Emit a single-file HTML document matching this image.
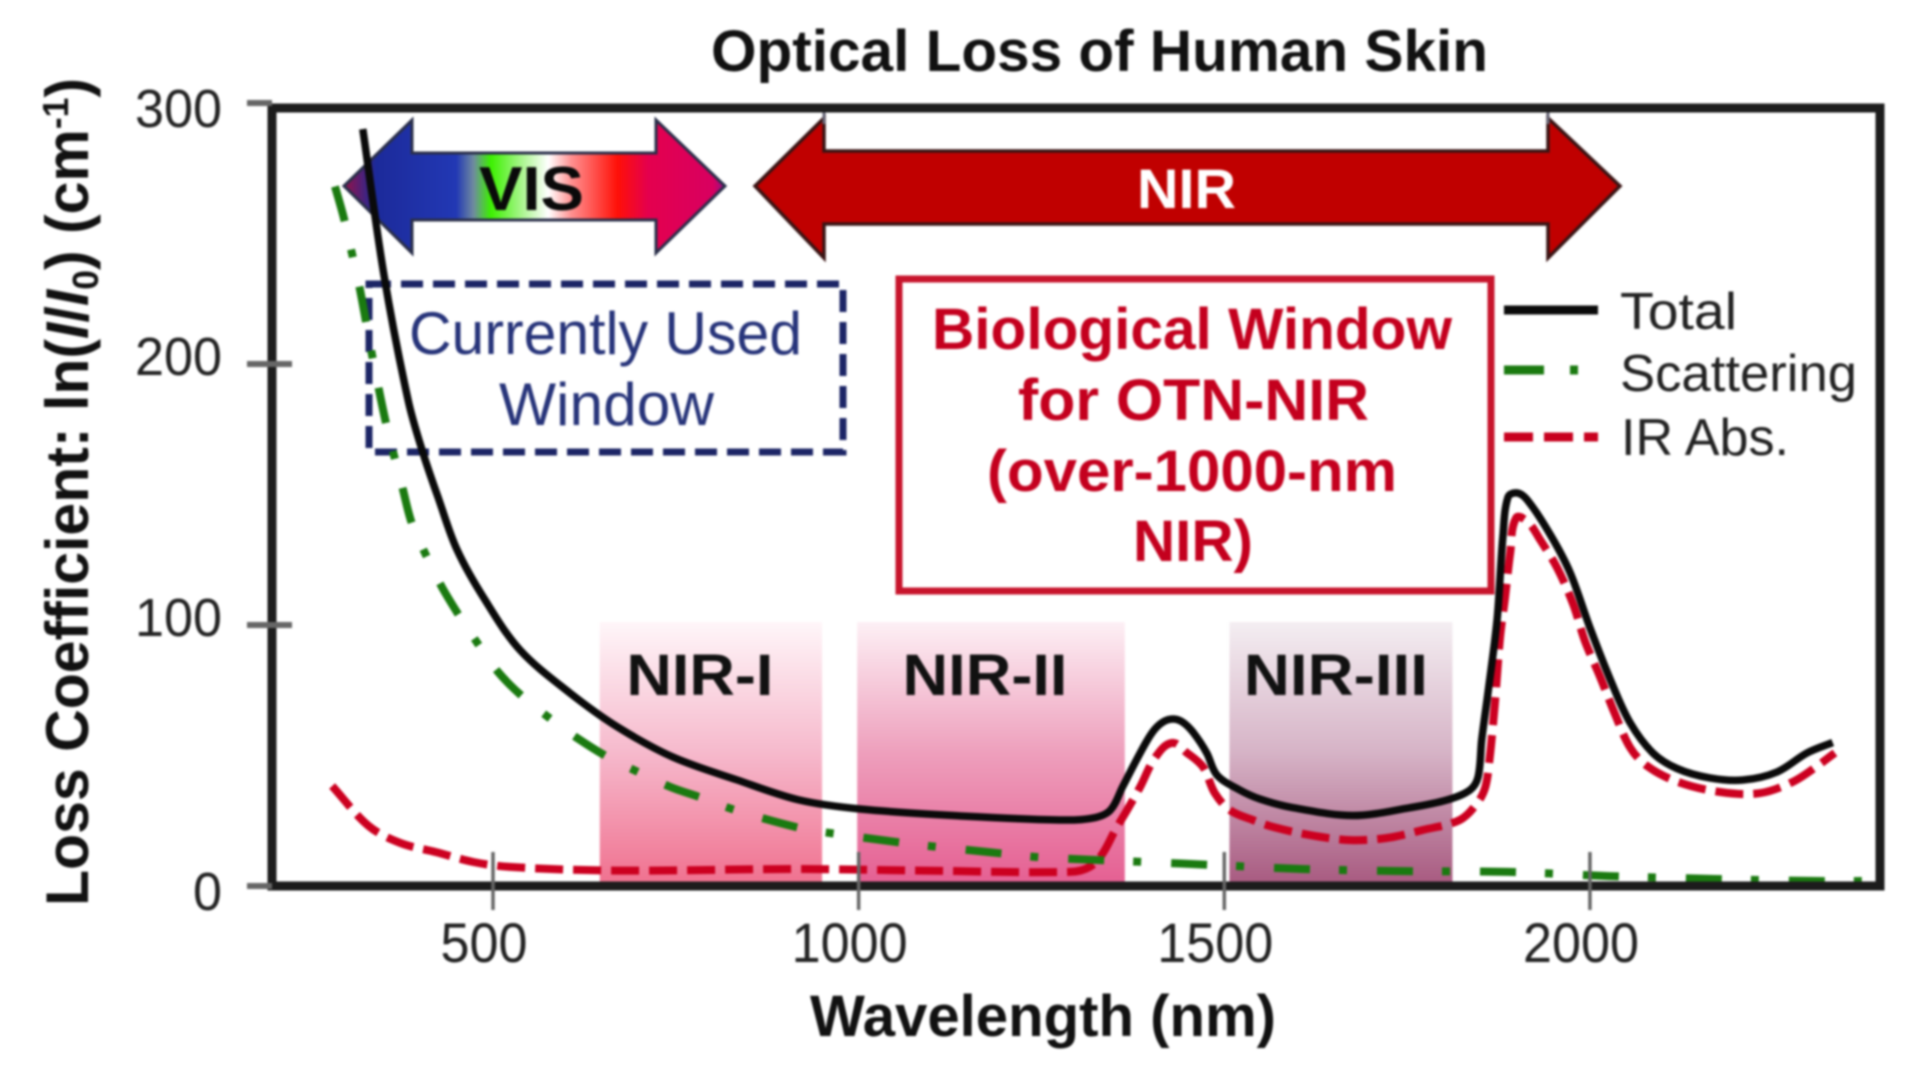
<!DOCTYPE html>
<html lang="en">
<head>
<meta charset="utf-8">
<title>Optical Loss of Human Skin</title>
<style>
  html, body { margin: 0; padding: 0; background: #fff; }
  body { width: 1928px; height: 1079px; overflow: hidden; }
  svg { display: block; filter: blur(1px); font-family: "Liberation Sans", sans-serif; }
</style>
</head>
<body>
<svg id="chart" xmlns="http://www.w3.org/2000/svg" width="1928" height="1079" viewBox="0 0 1928 1079">
  <defs>
    <linearGradient id="grad-nir1" x1="0" y1="0" x2="0" y2="1">
      <stop offset="0" stop-color="#fff6f9"/><stop offset="0.5" stop-color="#f6b9cc"/><stop offset="1" stop-color="#f0718f"/>
    </linearGradient>
    <linearGradient id="grad-nir2" x1="0" y1="0" x2="0" y2="1">
      <stop offset="0" stop-color="#fdf0f5"/><stop offset="0.5" stop-color="#ee9fbc"/><stop offset="1" stop-color="#e55f92"/>
    </linearGradient>
    <linearGradient id="grad-nir3" x1="0" y1="0" x2="0" y2="1">
      <stop offset="0" stop-color="#f4eef2"/><stop offset="0.5" stop-color="#d6b3c6"/><stop offset="1" stop-color="#a85a80"/>
    </linearGradient>
    <linearGradient id="grad-vis" gradientUnits="userSpaceOnUse" x1="341" y1="0" x2="725" y2="0">
      <stop offset="0" stop-color="#a01040"/>
      <stop offset="0.09" stop-color="#1c2a9a"/>
      <stop offset="0.30" stop-color="#2238b4"/>
      <stop offset="0.345" stop-color="#6f8aa0"/>
      <stop offset="0.39" stop-color="#3cf000"/>
      <stop offset="0.47" stop-color="#a8f58c"/>
      <stop offset="0.54" stop-color="#ffffff"/>
      <stop offset="0.60" stop-color="#ff9090"/>
      <stop offset="0.72" stop-color="#ff1008"/>
      <stop offset="0.80" stop-color="#e4004e"/>
      <stop offset="0.97" stop-color="#d80060"/>
      <stop offset="1" stop-color="#90108a"/>
    </linearGradient>
  </defs>

  <g id="bands"></g>

  <polygon points="344,186 412,120 412,153 656,153 656,120 725,186 656,253 656,220 412,220 412,253" fill="url(#grad-vis)" stroke="#2a2f4a" stroke-width="3"/>
  <polygon points="755,186 824,118 824,151 1548,151 1548,118 1620,186 1548,258 1548,224 824,224 824,258" fill="#c00000" stroke="#3a1414" stroke-width="3.5"/>
  <line x1="824" y1="112" x2="824" y2="124" stroke="#667" stroke-width="3"/>
  <line x1="1548" y1="112" x2="1548" y2="124" stroke="#667" stroke-width="3"/>

  <rect x="369" y="284" width="474" height="168" fill="none" stroke="#1c2566" stroke-width="7" stroke-dasharray="22 10"/>
  <rect x="899" y="279" width="592" height="312" fill="none" stroke="#c8142c" stroke-width="7"/>

  <g id="series"></g>

  <rect x="272" y="108" width="1608" height="778" fill="none" stroke="#1c1c1c" stroke-width="9"/>
  <g id="axes"></g>

  <text x="711" y="71" font-size="58" font-weight="bold" fill="#111" textLength="777" lengthAdjust="spacingAndGlyphs">Optical Loss of Human Skin</text>
  <text x="810" y="1036" font-size="58" font-weight="bold" fill="#111" textLength="466" lengthAdjust="spacingAndGlyphs">Wavelength (nm)</text>
  <text transform="translate(88,906) rotate(-90)" x="0" y="0" font-size="60" font-weight="bold" fill="#111" textLength="828" lengthAdjust="spacingAndGlyphs">Loss Coefficient: ln(<tspan font-style="italic">I</tspan>/<tspan font-style="italic">I</tspan><tspan font-size="36" dy="10">0</tspan><tspan dy="-10">) (cm</tspan><tspan font-size="36" dy="-20">-1</tspan><tspan dy="20">)</tspan></text>

  <text x="479" y="210" font-size="62" font-weight="bold" fill="#0a0a0a" textLength="105" lengthAdjust="spacingAndGlyphs">VIS</text>
  <text x="1137" y="208" font-size="56" font-weight="bold" fill="#fff" textLength="99" lengthAdjust="spacingAndGlyphs">NIR</text>

  <text x="409" y="354" font-size="60" fill="#27347a" textLength="393" lengthAdjust="spacingAndGlyphs">Currently Used</text>
  <text x="499" y="425" font-size="60" fill="#27347a" textLength="215" lengthAdjust="spacingAndGlyphs">Window</text>

  <text x="932" y="349" font-size="58" font-weight="bold" fill="#c4001e" textLength="520" lengthAdjust="spacingAndGlyphs">Biological Window</text>
  <text x="1018" y="420" font-size="58" font-weight="bold" fill="#c4001e" textLength="351" lengthAdjust="spacingAndGlyphs">for OTN-NIR</text>
  <text x="987" y="491" font-size="58" font-weight="bold" fill="#c4001e" textLength="410" lengthAdjust="spacingAndGlyphs">(over-1000-nm</text>
  <text x="1133" y="561" font-size="58" font-weight="bold" fill="#c4001e" textLength="120" lengthAdjust="spacingAndGlyphs">NIR)</text>

  <g>
    <line x1="1504" y1="310" x2="1598" y2="310" stroke="#0a0a0a" stroke-width="9"/>
    <line x1="1504" y1="370" x2="1544" y2="370" stroke="#1a7a10" stroke-width="9"/>
    <line x1="1570" y1="370" x2="1578" y2="370" stroke="#1a7a10" stroke-width="9"/>
    <line x1="1504" y1="437" x2="1598" y2="437" stroke="#c8001e" stroke-width="9" stroke-dasharray="29 11"/>
    <text x="1620" y="329" font-size="52" fill="#222" textLength="117" lengthAdjust="spacingAndGlyphs">Total</text>
    <text x="1620" y="391" font-size="52" fill="#222" textLength="237" lengthAdjust="spacingAndGlyphs">Scattering</text>
    <text x="1621" y="455" font-size="52" fill="#222" textLength="168" lengthAdjust="spacingAndGlyphs">IR Abs.</text>
  </g>

  <g id="band-labels"></g>
</svg>

<script>
const xTicks = [500, 1000, 1500, 2000];
const xTickLabels = ["500", "1000", "1500", "2000"];
const yTicks = [0, 100, 200, 300];
const yTickLabels = ["0", "100", "200", "300"];

const bandNames = ["NIR-I", "NIR-II", "NIR-III"];
const bandStartNm = [646, 998, 1507];
const bandEndNm = [950, 1364, 1812];

const totalNm = [322, 351, 384, 403, 426, 451, 489, 537, 605, 670, 746, 834, 918, 1002, 1144, 1275, 1320, 1344, 1361, 1385, 1402, 1416, 1430, 1443, 1457, 1476, 1490, 1521, 1549, 1594, 1676, 1754, 1805, 1836, 1847, 1852, 1861, 1873, 1881, 1888, 1900, 1914, 1945, 1973, 2000, 2028, 2055, 2086, 2119, 2164, 2209, 2256, 2297, 2332];
const totalLoss = [290, 234, 186, 167, 148, 128.7, 109.6, 90.4, 74, 61, 49.4, 40.6, 33, 29.5, 26.8, 25.3, 26, 29, 38, 51, 59, 62.8, 64, 62.8, 59, 51, 42.5, 36.8, 33.3, 30, 27, 30, 33, 36.8, 41.8, 56, 75, 102, 134, 149, 150.6, 148, 135, 120, 99, 79, 62.5, 51, 45, 41.4, 40.6, 43.7, 51, 55];

const scatteringNm = [284, 296, 307, 318, 335, 354, 377, 389, 408, 430, 455, 479, 507, 541, 577, 615, 657, 698, 742, 786, 832, 923, 969, 1061, 1107, 1178, 1249, 1392, 1489, 1606, 1744, 1888, 2026, 2170, 2312, 2388];
const scatteringLoss = [268, 256, 242.5, 228.7, 203, 177, 151.7, 139, 127, 114.6, 103, 93, 82, 72.4, 64.4, 56.7, 49.4, 43.7, 38, 33.7, 29, 22, 20, 16.5, 15, 13, 11, 9.2, 8, 6.5, 5.7, 5.4, 3.8, 2.7, 1.9, 1.9];

const irAbsNm = [280, 330, 373, 422, 473, 523, 667, 918, 1087, 1289, 1316, 1334, 1351, 1367, 1385, 1405, 1428, 1449, 1471, 1487, 1508, 1539, 1567, 1617, 1672, 1722, 1772, 1822, 1846, 1857, 1863, 1870, 1877, 1884, 1891, 1899, 1915, 1932, 1955, 1977, 1993, 2014, 2034, 2055, 2078, 2119, 2178, 2233, 2278, 2311, 2335];
const irAbsLoss = [38.3, 23, 16.5, 13, 9.2, 7.3, 5.9, 6.5, 5.9, 5.4, 7.3, 12.6, 21.5, 29, 38, 49, 54.8, 51, 45.6, 35.6, 29, 25.3, 22.6, 19.5, 17.6, 18.4, 21.5, 25.3, 31.8, 38, 49.4, 70, 95, 110.7, 127.6, 141, 139.5, 132.6, 122, 108, 94, 80, 66, 53, 46, 40, 36, 35.6, 40, 46, 51];

const SVGNS = "http://www.w3.org/2000/svg";
function xOf(nm) { return 493 + (nm - 500) * 0.7313; }
function yOf(loss) { return 886 - loss * 2.61; }

function smoothPath(xs, ys) {
  const p = xs.map(function (x, i) { return [xOf(x), yOf(ys[i])]; });
  function tangent(i) {
    const a = p[Math.max(i - 1, 0)], c = p[Math.min(i + 1, p.length - 1)];
    const dx = c[0] - a[0], dy = c[1] - a[1], len = Math.hypot(dx, dy) || 1;
    return [dx / len, dy / len];
  }
  let d = "M" + p[0][0].toFixed(1) + " " + p[0][1].toFixed(1);
  for (let i = 0; i < p.length - 1; i++) {
    const b = p[i], c = p[i + 1];
    const seg = Math.hypot(c[0] - b[0], c[1] - b[1]) / 3;
    const t0 = tangent(i), t1 = tangent(i + 1);
    d += "C" + (b[0] + t0[0] * seg).toFixed(1) + " " + (b[1] + t0[1] * seg).toFixed(1) + " " + (c[0] - t1[0] * seg).toFixed(1) + " " + (c[1] - t1[1] * seg).toFixed(1) + " " + c[0].toFixed(1) + " " + c[1].toFixed(1);
  }
  return d;
}

const bandsGroup = document.getElementById("bands");
const bandLabelsGroup = document.getElementById("band-labels");
const bandLabelWidths = { "NIR-I": 147, "NIR-II": 165, "NIR-III": 184 };
const bandLabelShifts = { "NIR-I": -11, "NIR-II": -6, "NIR-III": -5 };
bandNames.forEach(function (name, i) {
  const x0 = xOf(bandStartNm[i]), x1 = xOf(bandEndNm[i]);
  const r = document.createElementNS(SVGNS, "rect");
  
  
  r.setAttribute("x", x0);
  r.setAttribute("y", 622);
  r.setAttribute("width", x1 - x0);
  r.setAttribute("height", 262);
  r.setAttribute("fill", "url(#grad-nir" + (i + 1) + ")");
  bandsGroup.appendChild(r);

  const t = document.createElementNS(SVGNS, "text");
  
  
  t.setAttribute("x", (x0 + x1) / 2 + bandLabelShifts[name]);
  t.setAttribute("y", 695);
  t.setAttribute("text-anchor", "middle");
  t.setAttribute("font-size", "58");
  t.setAttribute("font-weight", "bold");
  t.setAttribute("fill", "#111");
  t.setAttribute("textLength", bandLabelWidths[name]);
  t.setAttribute("lengthAdjust", "spacingAndGlyphs");
  t.textContent = name;
  bandLabelsGroup.appendChild(t);
});

const seriesGroup = document.getElementById("series");

const irPath = document.createElementNS(SVGNS, "path");


irPath.setAttribute("d", smoothPath(irAbsNm, irAbsLoss));
irPath.setAttribute("fill", "none");
irPath.setAttribute("stroke", "#cc0020");
irPath.setAttribute("stroke-width", "8");
irPath.setAttribute("stroke-dasharray", "28 10");
seriesGroup.appendChild(irPath);

const scatterPath = document.createElementNS(SVGNS, "path");


scatterPath.setAttribute("d", smoothPath(scatteringNm, scatteringLoss));
scatterPath.setAttribute("fill", "none");
scatterPath.setAttribute("stroke", "#1a7a10");
scatterPath.setAttribute("stroke-width", "8");
scatterPath.setAttribute("stroke-dasharray", "36 29 8 30");
seriesGroup.appendChild(scatterPath);

const totalPath = document.createElementNS(SVGNS, "path");


totalPath.setAttribute("d", smoothPath(totalNm, totalLoss));
totalPath.setAttribute("fill", "none");
totalPath.setAttribute("stroke", "#0a0a0a");
totalPath.setAttribute("stroke-width", "7.5");
totalPath.setAttribute("stroke-linejoin", "round");
seriesGroup.appendChild(totalPath);

const axesGroup = document.getElementById("axes");
xTicks.forEach(function (v, i) {
  const l = document.createElementNS(SVGNS, "line");
  
  
  l.setAttribute("x1", xOf(v));
  l.setAttribute("x2", xOf(v));
  l.setAttribute("y1", 852);
  l.setAttribute("y2", 910);
  l.setAttribute("stroke", "#666");
  l.setAttribute("stroke-width", "3.5");
  axesGroup.appendChild(l);

  const t = document.createElementNS(SVGNS, "text");
  
  
  t.setAttribute("x", xOf(v) - 9);
  t.setAttribute("y", 962);
  t.setAttribute("text-anchor", "middle");
  t.setAttribute("font-size", "56");
  t.setAttribute("fill", "#222");
  t.setAttribute("textLength", xTickLabels[i].length * 29);
  t.setAttribute("lengthAdjust", "spacingAndGlyphs");
  t.textContent = xTickLabels[i];
  axesGroup.appendChild(t);
});

yTicks.forEach(function (v, i) {
  const l = document.createElementNS(SVGNS, "line");
  
  
  l.setAttribute("x1", 247);
  l.setAttribute("x2", v % 300 === 0 ? 272 : 292);
  l.setAttribute("y1", yOf(v));
  l.setAttribute("y2", yOf(v));
  l.setAttribute("stroke", "#666");
  l.setAttribute("stroke-width", "6");
  axesGroup.appendChild(l);

  const t = document.createElementNS(SVGNS, "text");
  
  
  t.setAttribute("x", 222);
  t.setAttribute("y", yOf(v) + (v % 300 === 0 ? 24 : 11));
  t.setAttribute("text-anchor", "end");
  t.setAttribute("font-size", "54");
  t.setAttribute("fill", "#222");
  t.setAttribute("textLength", yTickLabels[i].length * 29);
  t.setAttribute("lengthAdjust", "spacingAndGlyphs");
  t.textContent = yTickLabels[i];
  axesGroup.appendChild(t);
});
</script>
</body>
</html>
